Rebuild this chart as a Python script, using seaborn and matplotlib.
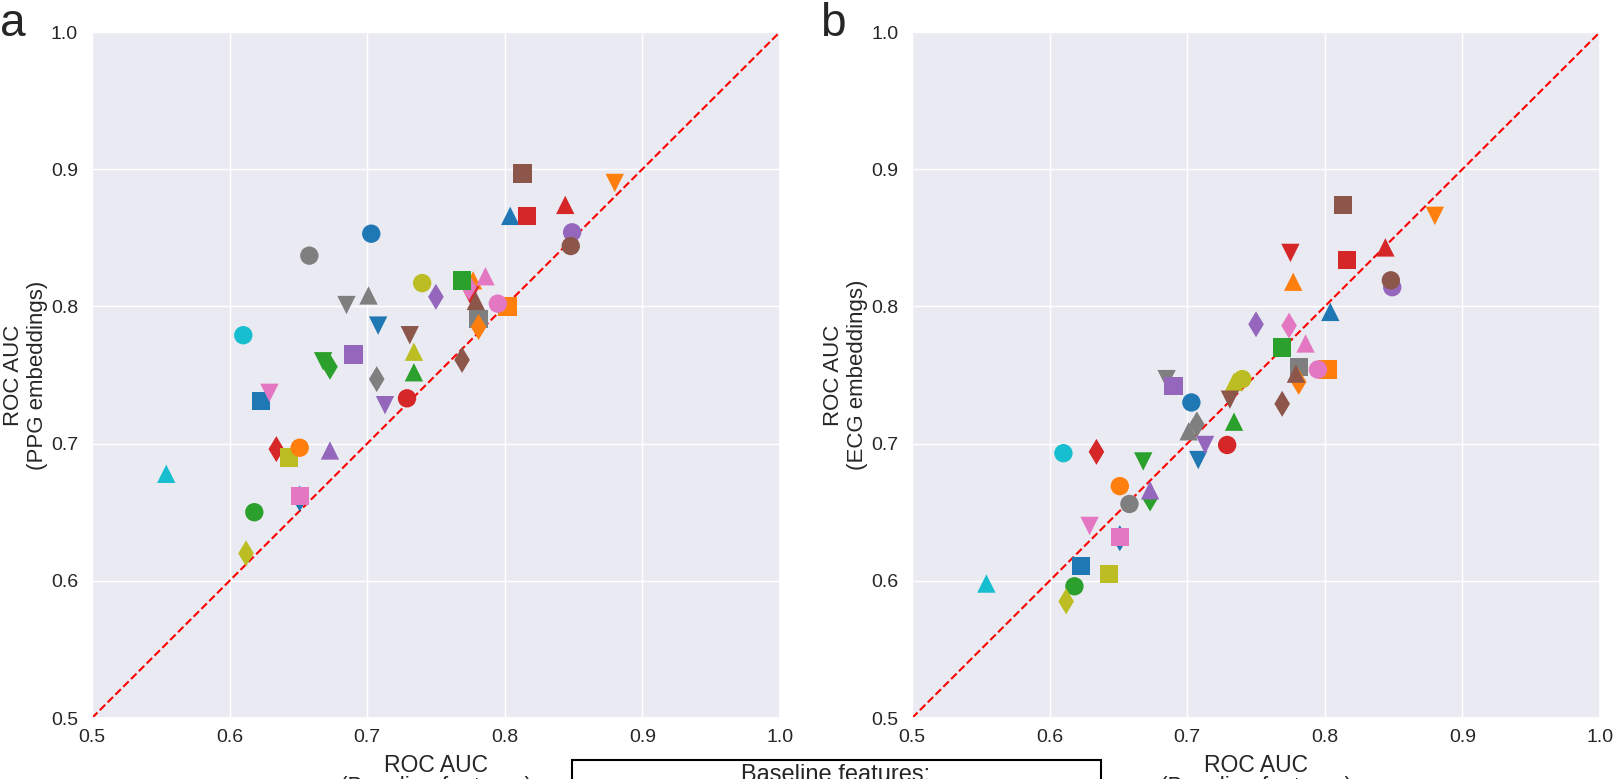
import matplotlib
matplotlib.use("Agg")
import matplotlib.pyplot as plt
import seaborn as sns
import pandas as pd

# one entry per task: colour, marker, baseline AUC, PPG-embedding AUC, ECG-embedding AUC
colors = ["tab:gray", "tab:gray", "tab:gray", "tab:gray",
          "tab:blue", "tab:blue", "tab:blue", "tab:blue", "tab:blue",
          "tab:orange", "tab:orange", "tab:orange", "tab:orange",
          "tab:green", "tab:green", "tab:green", "tab:green",
          "tab:red", "tab:red", "tab:red", "tab:red", "tab:red",
          "tab:purple", "tab:purple", "tab:purple", "tab:purple", "tab:purple",
          "tab:brown", "tab:brown", "tab:brown", "tab:brown",
          "tab:pink", "tab:pink", "tab:pink", "tab:pink", "tab:pink",
          "tab:green", "tab:gray",
          "tab:olive", "tab:olive", "tab:olive", "tab:olive",
          "tab:cyan", "tab:cyan",
          "tab:brown", "tab:orange"]
markers = ["s", "v", "^", "d",
           "o", "^", "v", "s", "d",
           "^", "v", "s", "d",
           "o", "^", "v", "d",
           "o", "^", "v", "s", "d",
           "o", "^", "v", "s", "d",
           "o", "^", "s", "d",
           "o", "^", "v", "s", "d",
           "s", "o",
           "o", "^", "s", "d",
           "o", "^",
           "v", "o"]
baseline = [0.781, 0.685, 0.701, 0.707,
            0.703, 0.804, 0.708, 0.623, 0.651,
            0.777, 0.880, 0.802, 0.781,
            0.618, 0.734, 0.668, 0.673,
            0.729, 0.844, 0.775, 0.816, 0.634,
            0.849, 0.673, 0.713, 0.690, 0.750,
            0.848, 0.779, 0.813, 0.769,
            0.795, 0.786, 0.629, 0.651, 0.774,
            0.769, 0.658,
            0.740, 0.734, 0.643, 0.612,
            0.610, 0.554,
            0.731, 0.651]
ppg = [0.791, 0.801, 0.808, 0.747,
       0.853, 0.866, 0.786, 0.731, 0.660,
       0.819, 0.890, 0.800, 0.785,
       0.650, 0.752, 0.760, 0.756,
       0.733, 0.874, 0.808, 0.866, 0.696,
       0.854, 0.695, 0.728, 0.765, 0.807,
       0.844, 0.804, 0.897, 0.761,
       0.802, 0.822, 0.737, 0.662, 0.814,
       0.819, 0.837,
       0.817, 0.767, 0.690, 0.620,
       0.779, 0.678,
       0.779, 0.697]
ecg = [0.756, 0.747, 0.709, 0.714,
       0.730, 0.796, 0.688, 0.611, 0.631,
       0.818, 0.866, 0.754, 0.745,
       0.596, 0.716, 0.687, 0.660,
       0.699, 0.843, 0.839, 0.834, 0.694,
       0.814, 0.666, 0.699, 0.742, 0.787,
       0.819, 0.751, 0.874, 0.729,
       0.754, 0.773, 0.640, 0.632, 0.786,
       0.770, 0.656,
       0.747, 0.745, 0.605, 0.585,
       0.693, 0.598,
       0.732, 0.669]

ticks = [0.5, 0.6, 0.7, 0.8, 0.9, 1.0]

df = pd.DataFrame({"color": colors, "marker": markers,
                   "baseline": baseline, "ppg": ppg, "ecg": ecg})

sns.set_theme(style="darkgrid")
plt.rcParams["font.family"] = ["Liberation Sans", "DejaVu Sans"]

fig = plt.figure(figsize=(16.16, 7.79), dpi=100)
ax_a = fig.add_axes([0.0569, 0.0783, 0.4257, 0.8806])
ax_b = fig.add_axes([0.5644, 0.0783, 0.4257, 0.8806])

palette = {c: c for c in set(colors)}
marker_map = {m: m for m in set(markers)}

for ax, col, name, letter, lx in [(ax_a, "ppg", "PPG", "a", 0.0),
                                  (ax_b, "ecg", "ECG", "b", 0.5075)]:
    sns.scatterplot(data=df, x="baseline", y=col, hue="color", style="marker",
                    palette=palette, markers=marker_map, s=175, linewidth=0,
                    legend=False, ax=ax, zorder=3)
    ax.plot(ticks, ticks, ls="--", color="red", lw=1.5, zorder=2)
    ax.set_xlim(0.5, 1.0)
    ax.set_ylim(0.5, 1.0)
    ax.set_xticks(ticks)
    ax.set_yticks(ticks)
    ax.tick_params(axis="y", labelsize=14, pad=4)
    ax.tick_params(axis="x", labelsize=14, pad=2)
    ax.set_xlabel("ROC AUC\n(Baseline features)", fontsize=16.5, labelpad=6,
                  linespacing=0.92)
    ax.set_ylabel(f"ROC AUC\n({name} embeddings)", fontsize=16, labelpad=2)
    fig.text(lx, 0.998, letter, fontsize=33, ha="left", va="top")

# legend box, mostly below the visible canvas
fig.add_artist(plt.Rectangle((0.354, -0.2), 0.3274, 0.2244, transform=fig.transFigure,
                             facecolor="white", edgecolor="black", lw=1.5, clip_on=False))
fig.text(0.5173, 0.019, "Baseline features:", fontsize=17, ha="center", va="top")

fig.savefig("out.png", dpi=100)
